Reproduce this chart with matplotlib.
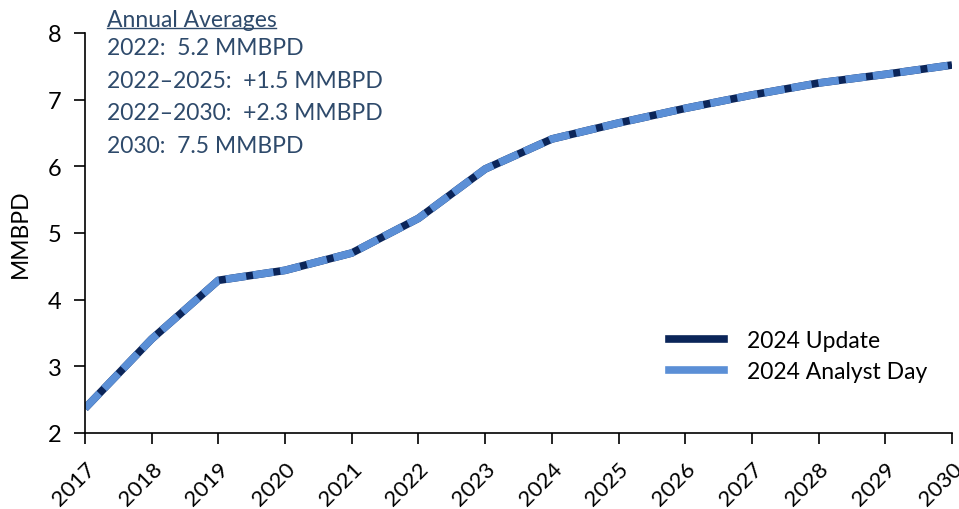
import numpy as np
import matplotlib.pyplot as plt
from matplotlib.lines import Line2D

plt.rcParams['font.family'] = ['Lato', 'DejaVu Sans']

years = [2017, 2018, 2019, 2020, 2021, 2022, 2023, 2024, 2025, 2026, 2027, 2028, 2029, 2030]
update_2024 = [2.37, 3.41, 4.29, 4.44, 4.70, 5.22, 5.96, 6.41, 6.65, 6.87, 7.07, 7.25, 7.38, 7.52]
analyst_day_2024 = [2.37, 3.41, 4.29, 4.44, 4.70, 5.22, 5.96, 6.41, 6.65, 6.87, 7.07, 7.25, 7.38, 7.52]

summary_title = 'Annual Averages'
summary_lines = ['2022:  5.2 MMBPD',
                 '2022\u20132025:  +1.5 MMBPD',
                 '2022\u20132030:  +2.3 MMBPD',
                 '2030:  7.5 MMBPD']

dark = '#0B2559'
light = '#5B8FD6'
note_color = '#2E4A6B'

fig = plt.figure(figsize=(9.59, 5.10), dpi=100)
ax = fig.add_axes([85 / 959, 1 - 434 / 510, 867 / 959, 400 / 510])

ax.plot(years, update_2024, color=dark, lw=5.5, solid_capstyle='butt')
ax.plot(years, analyst_day_2024, color=light, lw=5.5, dashes=(2.7, 0.9),
        dash_capstyle='butt')

ax.set_xlim(2017, 2030)
ax.set_ylim(2, 8)
ax.set_xticks(years)
ax.set_xticklabels([str(y) for y in years], rotation=45, ha='right',
                   rotation_mode='anchor', fontsize=16)
ax.set_yticks(np.arange(2, 9, 1))
ax.tick_params(axis='y', labelsize=17, direction='out', length=8, width=1.2, pad=9)
ax.tick_params(axis='x', direction='out', length=8, width=1.2, pad=10)
ax.set_ylabel('MMBPD', fontsize=16.5, labelpad=12)

for side in ['top', 'right']:
    ax.spines[side].set_visible(False)
for side in ['left', 'bottom']:
    ax.spines[side].set_linewidth(1.2)

# summary box in the upper left
title_txt = ax.text(0.025, 1.06, summary_title, transform=ax.transAxes, fontsize=16.5,
                    color=note_color, va='top', ha='left')
for i, line in enumerate(summary_lines):
    ax.text(0.025, 0.99 - i * 0.0815, line, transform=ax.transAxes, fontsize=16.5,
            color=note_color, va='top', ha='left')

# underline the title to its own width
fig.canvas.draw()
bb = title_txt.get_window_extent().transformed(fig.transFigure.inverted())
fig.add_artist(Line2D([bb.x0, bb.x1], [bb.y0 + 0.004, bb.y0 + 0.004],
                      color=note_color, lw=1))

handles = [Line2D([], [], color=dark, lw=5.5),
           Line2D([], [], color=light, lw=5.5)]
ax.legend(handles, ['2024 Update', '2024 Analyst Day'], loc='lower right',
          bbox_to_anchor=(0.995, 0.075), frameon=False, fontsize=16.5,
          handlelength=2.4, handletextpad=1.0, labelspacing=0.45)

fig.savefig('out.png', dpi=100)
